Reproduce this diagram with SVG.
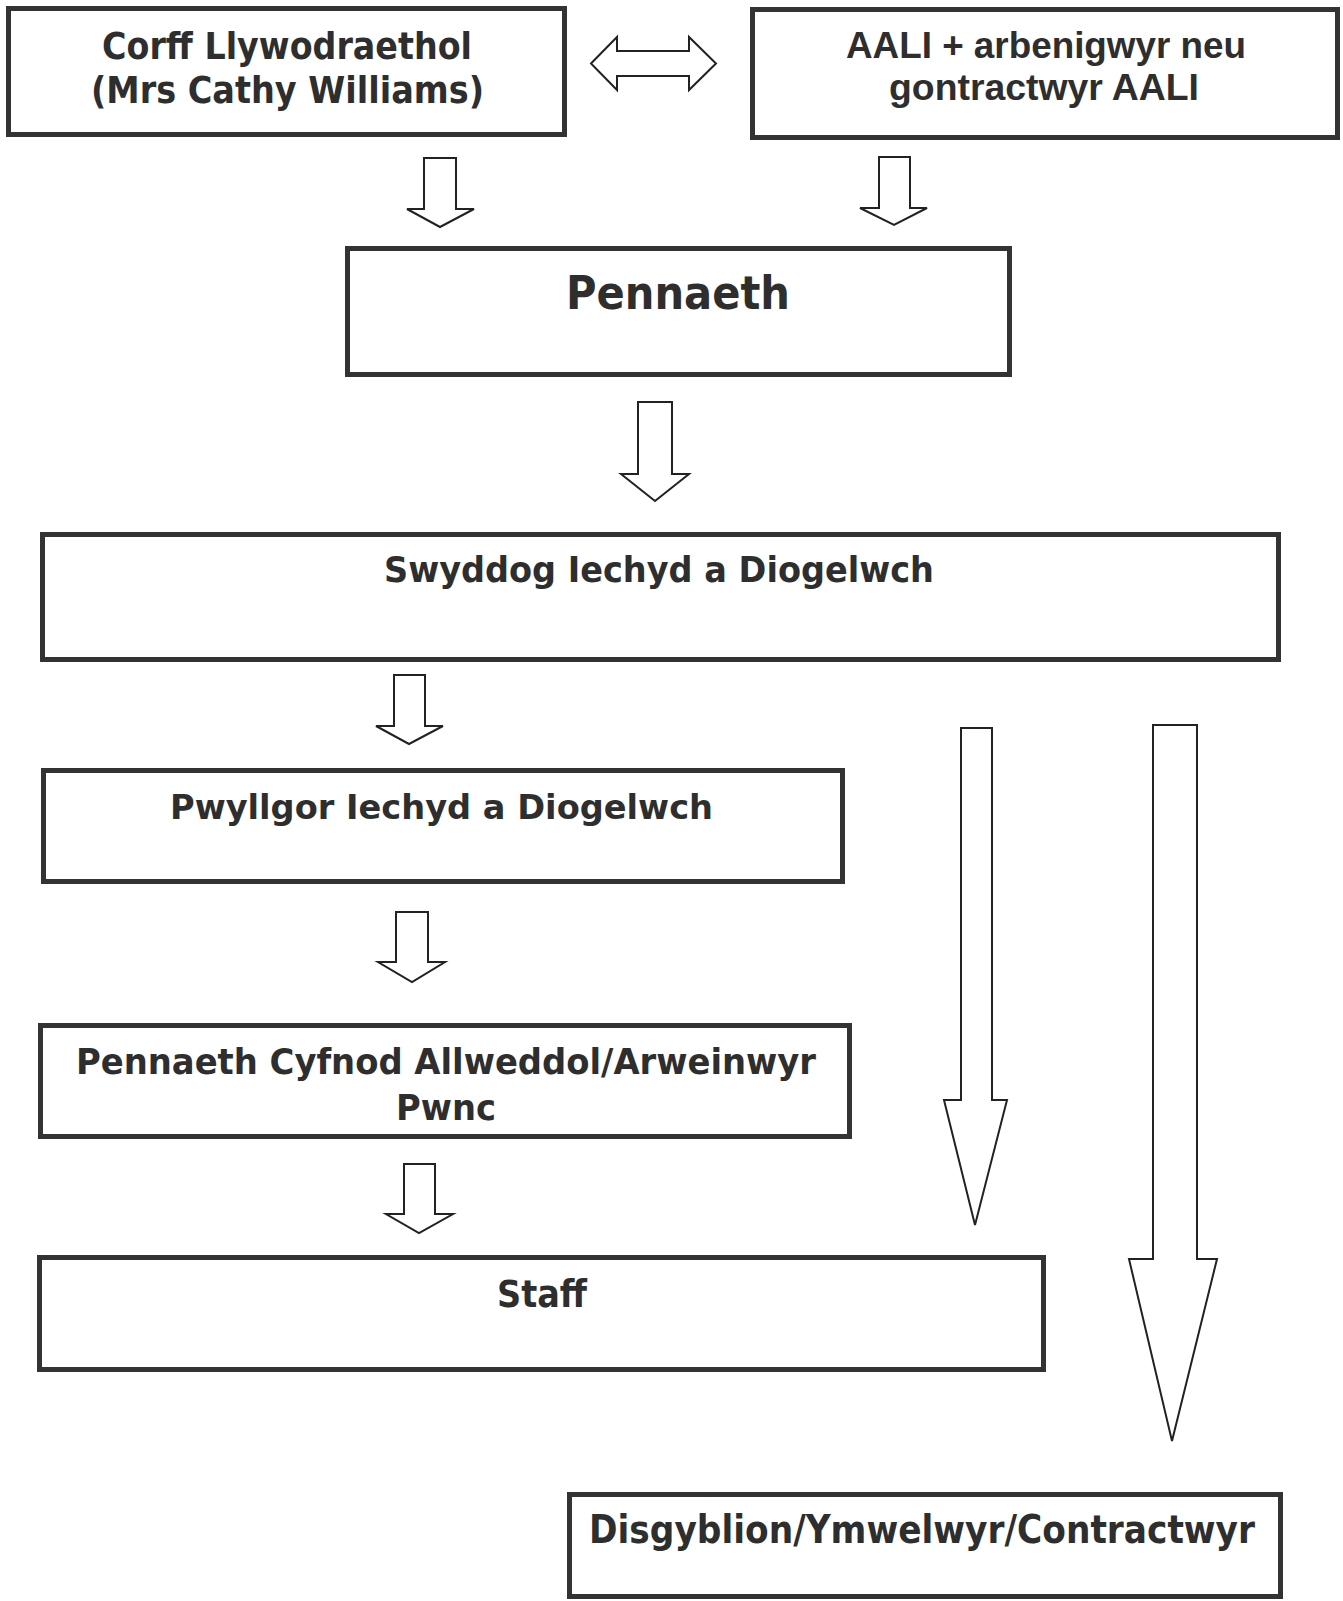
<svg xmlns="http://www.w3.org/2000/svg" width="1343" height="1601" viewBox="0 0 1343 1601">
<style>
.box{fill:#fff;stroke:#333;stroke-width:5}
.arr{fill:#fff;stroke:#222;stroke-width:2;stroke-linejoin:miter}
.t{font-family:"DejaVu Sans","Liberation Sans",sans-serif;font-weight:bold;fill:#2e2e2e;text-anchor:middle}
.a{font-family:"Liberation Sans",Arial,sans-serif;font-weight:bold;fill:#2e2e2e;text-anchor:middle}
</style>
<rect width="1343" height="1601" fill="#fff"/>
<g id="connectors">
<path class="arr" d="M591,63.5 L617,37 L617,51 L689,51 L689,37 L716,63.5 L689,90 L689,76 L617,76 L617,90 Z"/>
<path class="arr" d="M424,158 L456,158 L456,209 L474,209 L440,227 L407,209 L424,209 Z"/>
<path class="arr" d="M879,157 L910,157 L910,208 L927,208 L894,225 L860,208 L879,208 Z"/>
<path class="arr" d="M638,402 L672,402 L672,474 L689,474 L655,501 L621,474 L638,474 Z"/>
<path class="arr" d="M394,675 L425,675 L425,726 L443,726 L409,744 L376,726 L394,726 Z"/>
<path class="arr" d="M396,912 L428,912 L428,962 L445,962 L412,982 L378,962 L396,962 Z"/>
<path class="arr" d="M404,1164 L435,1164 L435,1214 L453,1214 L419,1233 L386,1214 L404,1214 Z"/>
<path class="arr" d="M961,728 L992,728 L992,1100 L1007,1100 L975,1225 L944,1100 L961,1100 Z"/>
<path class="arr" d="M1153,725 L1197,725 L1197,1259 L1217,1259 L1172,1441 L1129,1259 L1153,1259 Z"/>
</g>
<g id="corff">
<rect class="box" x="8.5" y="8.5" width="556" height="126"/>
<text class="t" x="287" y="59" font-size="38" textLength="370" lengthAdjust="spacingAndGlyphs">Corff Llywodraethol</text>
<text class="t" x="287.5" y="103" font-size="38" textLength="393" lengthAdjust="spacingAndGlyphs">(Mrs Cathy Williams)</text>
</g>
<g id="aali">
<rect class="box" x="752.5" y="9.5" width="585" height="128"/>
<text class="a" x="1046" y="57.5" font-size="37" textLength="400" lengthAdjust="spacingAndGlyphs">AALI + arbenigwyr neu</text>
<text class="a" x="1044" y="99.5" font-size="37" textLength="310" lengthAdjust="spacingAndGlyphs">gontractwyr AALI</text>
</g>
<g id="pennaeth">
<rect class="box" x="347.5" y="248.5" width="662" height="126"/>
<text class="t" x="678" y="309" font-size="46" textLength="224" lengthAdjust="spacingAndGlyphs">Pennaeth</text>
</g>
<g id="swyddog">
<rect class="box" x="42.5" y="534.5" width="1236" height="125"/>
<text class="t" x="659" y="582" font-size="35" textLength="550" lengthAdjust="spacingAndGlyphs">Swyddog Iechyd a Diogelwch</text>
</g>
<g id="pwyllgor">
<rect class="box" x="43.5" y="770.5" width="799" height="111"/>
<text class="t" x="441.5" y="819" font-size="34" textLength="543" lengthAdjust="spacingAndGlyphs">Pwyllgor Iechyd a Diogelwch</text>
</g>
<g id="pennaeth-cyfnod">
<rect class="box" x="40.5" y="1025.5" width="809" height="111"/>
<text class="t" x="446" y="1074" font-size="36" textLength="740" lengthAdjust="spacingAndGlyphs">Pennaeth Cyfnod Allweddol/Arweinwyr</text>
<text class="t" x="446" y="1120" font-size="36" textLength="100" lengthAdjust="spacingAndGlyphs">Pwnc</text>
</g>
<g id="staff">
<rect class="box" x="39.5" y="1257.5" width="1004" height="112"/>
<text class="t" x="542" y="1307" font-size="37" textLength="90" lengthAdjust="spacingAndGlyphs">Staff</text>
</g>
<g id="disgyblion">
<rect class="box" x="569.5" y="1494.5" width="711" height="102"/>
<text class="t" x="922" y="1543" font-size="39" textLength="666" lengthAdjust="spacingAndGlyphs">Disgyblion/Ymwelwyr/Contractwyr</text>
</g>
</svg>
